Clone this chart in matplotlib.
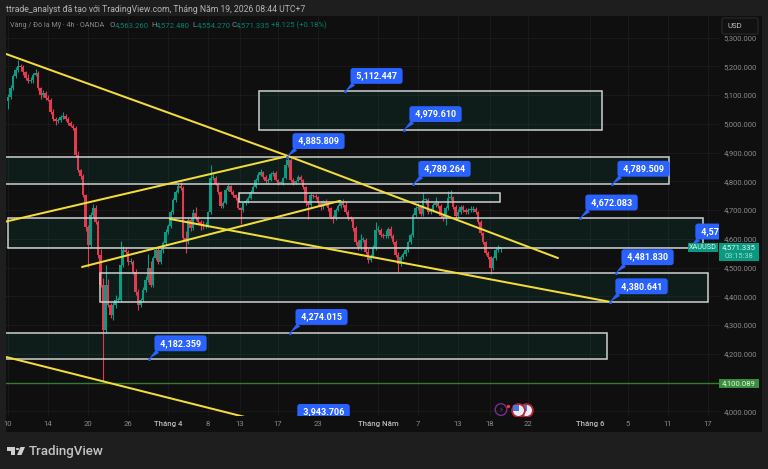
import matplotlib
matplotlib.use("Agg")
import matplotlib.pyplot as plt
from matplotlib.patches import Rectangle, FancyBboxPatch, Polygon, Circle

# gia dong cua tung nen (4h), doc tu anh
closes = [
    5093, 5125, 5166, 5187, 5201, 5198, 5180, 5160, 5149, 5153,
    5170, 5177, 5125, 5100, 5107, 5090, 5083, 5041, 5017, 5010,
    5013, 5024, 5027, 5017, 5003, 4993, 4986, 4892, 4839, 4819,
    4752, 4641, 4578, 4683, 4707, 4658, 4544, 4439, 4283, 4439,
    4370, 4335, 4370, 4387, 4387, 4509, 4561, 4554, 4519, 4519,
    4484, 4415, 4370, 4387, 4422, 4457, 4498, 4439, 4533, 4561,
    4519, 4561, 4585, 4624, 4645, 4693, 4735, 4763, 4784, 4777,
    4603, 4589, 4665, 4638, 4690, 4672, 4658, 4651, 4645, 4645,
    4693, 4812, 4812, 4791, 4763, 4714, 4725, 4770, 4784, 4763,
    4752, 4742, 4707, 4700, 4725, 4732, 4742, 4763, 4780, 4805,
    4822, 4832, 4815, 4801, 4805, 4825, 4829, 4805, 4794, 4794,
    4812, 4857, 4874, 4805, 4794, 4801, 4815, 4805, 4780, 4725,
    4718, 4752, 4749, 4745, 4725, 4711, 4728, 4718, 4707, 4676,
    4672, 4700, 4714, 4728, 4718, 4693, 4672, 4669, 4638, 4589,
    4568, 4596, 4596, 4554, 4526, 4540, 4568, 4631, 4631, 4613,
    4610, 4610, 4634, 4610, 4589, 4544, 4512, 4537, 4547, 4561,
    4589, 4613, 4683, 4707, 4711, 4686, 4735, 4735, 4693, 4700,
    4718, 4725, 4714, 4679, 4672, 4707, 4742, 4745, 4711, 4679,
    4693, 4711, 4700, 4693, 4700, 4700, 4704, 4693, 4658, 4620,
    4589, 4551, 4537, 4498, 4533, 4561, 4563, 4571,
]
first_open = 5080

# do dai rau nen tren / duoi
upper_wicks = [
    12, 10, 8, 10, 22, 8, 6, 5, 12, 10,
    5, 15, 6, 4, 10, 8, 10, 6, 12, 5,
    6, 8, 14, 8, 5, 6, 8, 5, 12, 4,
    8, 4, 8, 10, 14, 12, 6, 20, 25, 70,
    20, 8, 10, 18, 12, 85, 15, 10, 8, 14,
    6, 10, 12, 8, 10, 12, 50, 25, 8, 6,
    10, 8, 6, 10, 6, 8, 8, 6, 10, 14,
    8, 25, 12, 8, 14, 22, 8, 6, 10, 14,
    5, 45, 12, 8, 6, 5, 8, 6, 5, 4,
    8, 5, 6, 4, 4, 6, 6, 8, 6, 6,
    10, 12, 5, 6, 8, 6, 6, 8, 4, 8,
    4, 20, 18, 8, 8, 4, 6, 6, 4, 5,
    8, 6, 5, 8, 5, 6, 6, 10, 4, 4,
    8, 8, 6, 6, 10, 14, 6, 6, 4, 8,
    8, 20, 10, 6, 14, 8, 12, 26, 14, 8,
    8, 22, 6, 10, 6, 8, 10, 8, 6, 8,
    4, 6, 8, 6, 12, 8, 24, 6, 8, 6,
    8, 22, 6, 6, 8, 8, 24, 25, 5, 8,
    10, 6, 6, 8, 6, 14, 10, 6, 4, 6,
    4, 4, 6, 4, 8, 6, 14, 2,
]
lower_wicks = [
    30, 8, 8, 6, 8, 14, 10, 6, 8, 6,
    10, 5, 6, 12, 8, 8, 5, 6, 8, 14,
    8, 6, 6, 8, 6, 4, 6, 6, 8, 10,
    6, 14, 75, 10, 8, 6, 10, 6, 178, 10,
    8, 12, 18, 12, 8, 6, 8, 6, 10, 8,
    8, 10, 16, 8, 6, 6, 6, 8, 6, 8,
    8, 6, 10, 6, 6, 8, 6, 8, 4, 6,
    14, 40, 8, 12, 6, 8, 6, 20, 10, 6,
    5, 6, 6, 5, 8, 6, 6, 4, 5, 6,
    6, 8, 5, 50, 8, 6, 6, 5, 5, 4,
    6, 5, 8, 6, 6, 4, 6, 5, 8, 5,
    6, 4, 8, 6, 8, 4, 5, 8, 8, 10,
    50, 8, 6, 6, 6, 12, 6, 5, 10, 6,
    16, 6, 5, 6, 8, 6, 5, 6, 10, 12,
    6, 8, 8, 6, 10, 6, 6, 8, 6, 8,
    6, 6, 6, 6, 6, 8, 28, 6, 8, 6,
    6, 6, 6, 8, 8, 6, 8, 14, 6, 6,
    8, 6, 6, 6, 10, 24, 6, 8, 6, 14,
    6, 6, 6, 8, 6, 6, 6, 6, 6, 6,
    6, 6, 8, 20, 6, 6, 6, 9,
]

# vung gia: bar trai, bar phai, gia tren, gia duoi
zone_left = [100.4, -2, 92.4, 0, 36.8, -2]
zone_right = [237.6, 264.4, 196.8, 278, 280, 239.6]
zone_top = [5112.447, 4885.809, 4760, 4672.083, 4481.83, 4274.015]
zone_bottom = [4979.61, 4789.264, 4729, 4567, 4380.641, 4182.359]

# duong xu huong
trend_x = [(-0.8, 112), (112, 220), (-0.8, 112), (29.6, 132.8), (64.8, 240.8), (-0.8, 94.8)]
trend_y = [(5243, 4888), (4888, 4533), (4660, 4888), (4502, 4732), (4669, 4380.6), (4189, 3980)]

# nhan gia xanh
callout_text = ['5,112.447', '4,979.610', '4,885.809', '4,789.264', '4,789.509', '4,672.083',
                '4,571.335', '4,481.830', '4,380.641', '4,274.015', '4,182.359', '3,943.706']
callout_x = [134.8, 158.4, 111.6, 162, 241.6, 228.8, 272.8, 243.2, 240.8, 112.8, 56.4, 113.6]
callout_y = [5112.447, 4979.61, 4885.809, 4789.264, 4789.509, 4672.083,
             4571.335, 4481.83, 4380.641, 4274.015, 4182.359, 3943.706]

price_ticks = [5300, 5200, 5100, 5000, 4900, 4800, 4700, 4600, 4500, 4400, 4300, 4200, 4000]
time_pos = [0, 16, 32, 48, 64, 80, 92.8, 108, 124, 148, 164, 180, 192.8, 208, 232.8, 248, 264, 280]
time_labels = ['10', '14', '20', '26', 'Tháng 4', '8', '13', '17', '23', 'Tháng Năm',
               '7', '13', '18', '22', 'Tháng 6', '5', '11', '17']

UP = '#0b9a82'
DOWN = '#e23a4e'
BLUE = '#2962ff'
YELLOW = '#f4dc38'
GREY = '#8a8a8a'
FONT = 'Roboto'

plt.rcParams['font.family'] = [FONT, 'DejaVu Sans']

fig = plt.figure(figsize=(7.68, 4.69), dpi=100, facecolor='#1e1e1e')


def fx(px):
    return px / 768


def fy(py):
    return 1 - py / 469


# nen toi cua toan bo khung chart
fig.patches.append(Rectangle((fx(6), fy(432)), 756 / 768, 416 / 469, transform=fig.transFigure,
                             fc='#0f0f0f', ec='none', zorder=-1))

ax = fig.add_axes([fx(6), fy(416), 713 / 768, 400 / 469], facecolor='#0f0f0f')
ax.set_xlim(-0.8, 284.4)
ax.set_ylim(3983.6, 5375)
for s in ax.spines.values():
    s.set_visible(False)

ax.yaxis.tick_right()
ax.set_yticks(price_ticks)
ax.set_yticklabels([f'{p:,.3f}' for p in price_ticks], fontsize=5.5, color=GREY)
ax.set_xticks(time_pos)
ax.set_xticklabels(time_labels, fontsize=5.6, color=GREY)
for t, name in zip(ax.get_xticklabels(), time_labels):
    if name.startswith('Tháng'):
        t.set_color('#bdbdbd')
        t.set_fontweight('medium')
ax.tick_params(axis='both', length=0)
ax.tick_params(axis='x', pad=3.6)
ax.tick_params(axis='y', pad=3.4)
ax.grid(True, color='#1c1c1c', lw=0.6)
ax.set_axisbelow(True)

# vung gia (phan nen)
for l, r, t, b in zip(zone_left, zone_right, zone_top, zone_bottom):
    ax.add_patch(Rectangle((l, b), r - l, t - b, fc='#089981', alpha=0.1, ec='none', zorder=1))

# ve nen
prev = first_open
for i, c in enumerate(closes):
    o = prev
    col = UP if c >= o else DOWN
    top = max(o, c)
    bot = min(o, c)
    ax.vlines(i, bot - lower_wicks[i], top + upper_wicks[i], color=col, lw=0.8, zorder=2)
    ax.bar(i, max(top - bot, 4), bottom=bot, width=0.88, color=col, lw=0, zorder=2.1)
    prev = c

# vien vung gia
for l, r, t, b in zip(zone_left, zone_right, zone_top, zone_bottom):
    ax.add_patch(Rectangle((l, b), r - l, t - b, fc='none', ec='#cfcfcf', lw=1.1, zorder=3))

ax.axhline(4100.089, color='#2f7d32', lw=1, zorder=3)
ax.axhline(closes[-1] + 0.335, color='#6f7f7c', lw=0.6, ls=(0, (1, 1.5)), zorder=2.5)

for xs, ys in zip(trend_x, trend_y):
    ax.plot(xs, ys, color=YELLOW, lw=1.45, zorder=4, solid_capstyle='round')

# nhan gia
for txt, x, y in zip(callout_text, callout_x, callout_y):
    ann = ax.annotate(f' {txt} ', xy=(x, y), xytext=(22.7, 11.2), textcoords='offset points',
                      ha='center', va='center', color='white', fontsize=6.5, fontweight='bold',
                      bbox=dict(boxstyle='round,pad=0.38,rounding_size=0.3', fc=BLUE, ec=BLUE, lw=0),
                      arrowprops=dict(arrowstyle='wedge,tail_width=0.5,shrink_factor=0.5', fc=BLUE, ec=BLUE,
                                      lw=0, relpos=(0.1, 0.1), shrinkA=0, shrinkB=0),
                      zorder=6, clip_on=True, annotation_clip=False)
    ann.set_clip_box(ax.bbox)
    ann.arrow_patch.set_clip_box(ax.bbox)
    ax.plot([x], [y], 'o', ms=2.2, color=BLUE, mec='none', zorder=6, clip_on=True)

# icon su kien
ax.scatter([197.2], [4006], s=70, fc='none', ec='#7b2d8e', lw=1, zorder=5)
ax.text(197.2, 4006, '⚡', color='#7b2d8e', fontsize=5, ha='center', va='center',
        family='DejaVu Sans', zorder=6)
ax.scatter([200], [4018], s=6, color='#f23645', lw=0, zorder=6)
ax.scatter([207.2], [4006], s=85, fc='#e8eef8', ec='#c2202f', lw=1.3, zorder=5)
ax.scatter([206.2], [4011], s=14, c='#3f7be0', marker='s', lw=0, zorder=5.1)
ax.scatter([204], [4006], s=85, fc='#e8eef8', ec='#c2202f', lw=1.3, zorder=5.2)
ax.scatter([203], [4011], s=18, c='#3f7be0', marker='s', lw=0, zorder=5.3)

# thanh tieu de
fig.text(fx(6), fy(9), 'ttrade_analyst đã tạo với TradingView.com, Tháng Năm 19, 2026 08:44 UTC+7',
         color='#b4b4b4', fontsize=6.25, va='center', ha='left')

# dong OHLC
fig.text(fx(10), fy(25), 'Vàng / Đô la Mỹ · 4h · OANDA', color=GREY, fontsize=5.2, va='center', zorder=7)
ohlc_x = [110, 151, 192, 231]
ohlc_name = ['O', 'H', 'L', 'C']
ohlc_val = ['4,563.260', '4,572.480', '4,554.270', '4,571.335']
for px, n, v in zip(ohlc_x, ohlc_name, ohlc_val):
    fig.text(fx(px), fy(25), n, color=GREY, fontsize=5.6, va='center', zorder=7)
    fig.text(fx(px + 5), fy(25), v, color='#07806c', fontsize=5.6, va='center', zorder=7)
fig.text(fx(271), fy(25), '+8.125 (+0.18%)', color='#07806c', fontsize=5.6, va='center', zorder=7)


def tag(x0, x1, y0, y1, color):
    fig.patches.append(Rectangle((fx(x0), fy(y1)), (x1 - x0) / 768, (y1 - y0) / 469, transform=fig.transFigure,
                                 fc=color, ec='none', zorder=8))


# the gia ben phai
tag(688, 718, 243, 252, '#089981')
fig.text(fx(703), fy(247.6), 'XAUUSD', color='#e8f5f2', fontsize=5.2, ha='center', va='center', zorder=9)
tag(719, 759, 243, 261, '#089981')
fig.text(fx(739), fy(247.6), '4,571.335', color='#e8f5f2', fontsize=5.6, ha='center', va='center', zorder=9)
fig.text(fx(739), fy(256), '03:15:38', color='#a5d8cc', fontsize=5.4, ha='center', va='center', zorder=9)
tag(719, 759, 379, 388, '#388e3c')
fig.text(fx(739), fy(383.4), '4,100.089', color='#e8f5e9', fontsize=5.6, ha='center', va='center', zorder=9)

# nut USD
fig.patches.append(FancyBboxPatch((fx(722), fy(34)), 36 / 768, 16 / 469, transform=fig.transFigure,
                                  boxstyle='round,pad=0,rounding_size=0.003', fc='#111111', ec='#2a2a2a',
                                  lw=0.8, zorder=8))
fig.text(fx(727), fy(26), 'USD', color='#c4c4c4', fontsize=5.6, va='center', zorder=9)

# logo TradingView
logo = '#cfcfcf'
fig.patches.append(Polygon([(fx(7), fy(447)), (fx(15), fy(447)), (fx(15), fy(455)), (fx(11), fy(455)),
                            (fx(11), fy(451)), (fx(7), fy(451))], closed=True, transform=fig.transFigure,
                           fc=logo, ec='none'))
fig.patches.append(Circle((fx(17.5), fy(449)), 0.0022, transform=fig.transFigure, fc=logo, ec='none'))
fig.patches.append(Polygon([(fx(20.5), fy(447)), (fx(25), fy(447)), (fx(21.5), fy(455)), (fx(17), fy(455))],
                           closed=True, transform=fig.transFigure, fc=logo, ec='none'))
fig.text(fx(29), fy(451), 'TradingView', color='#c4c4c4', fontsize=9.6, fontweight='medium', va='center')

fig.savefig('out.png', dpi=100, facecolor=fig.get_facecolor())
